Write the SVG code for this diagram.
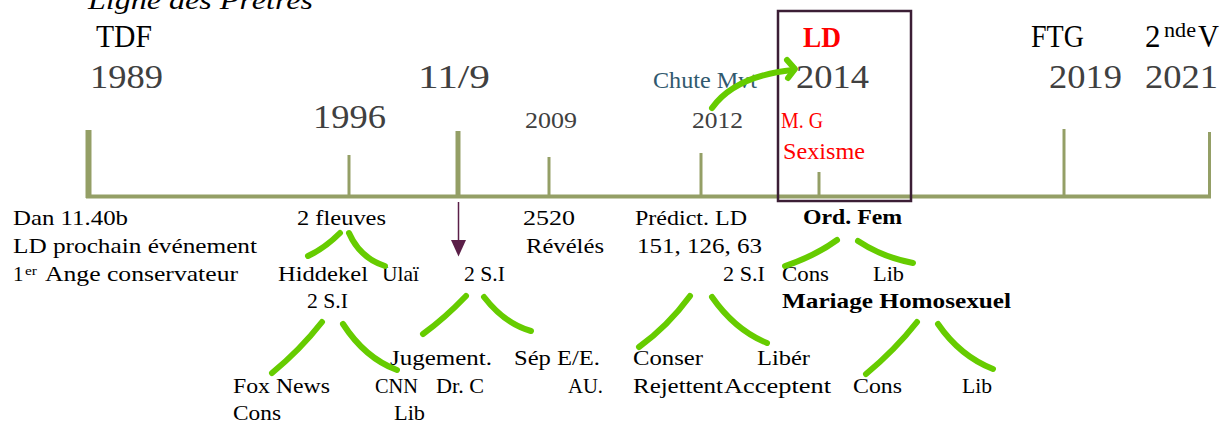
<svg xmlns="http://www.w3.org/2000/svg" width="1223" height="423" viewBox="0 0 1223 423">
<style>
text{font-family:"Liberation Serif","DejaVu Serif",serif;}
.yr{fill:#404040;font-size:33px;}
.yrs{fill:#404040;font-size:24px;}
.hd{fill:#000;font-size:31px;}
.t{fill:#000;font-size:21px;}
.b{font-weight:bold;}
.red{fill:#ff0000;}
.sup{font-size:13px;fill:#000;}
.tick{stroke:#949f66;fill:none;}
.grn{stroke:#66cc00;stroke-width:6;fill:none;stroke-linecap:round;stroke-linejoin:round;}
</style>
<rect width="1223" height="423" fill="#fff"/>
<g id="title"><text x="88" y="9" font-size="26" font-style="italic" textLength="225" lengthAdjust="spacingAndGlyphs">Ligne des Prêtres</text></g>
<g id="timeline">
<line class="tick" x1="86" y1="196.5" x2="1211" y2="196.5" stroke-width="4"/>
<line class="tick" x1="88.5" y1="130" x2="88.5" y2="198" stroke-width="6"/>
<line class="tick" x1="349" y1="155" x2="349" y2="196" stroke-width="3"/>
<line class="tick" x1="458" y1="131" x2="458" y2="196" stroke-width="5"/>
<line class="tick" x1="549" y1="157" x2="549" y2="196" stroke-width="3"/>
<line class="tick" x1="701" y1="153" x2="701" y2="196" stroke-width="3"/>
<line class="tick" x1="819" y1="172" x2="819" y2="198" stroke-width="3"/>
<line class="tick" x1="1064" y1="129" x2="1064" y2="196" stroke-width="3"/>
<line class="tick" x1="1209.5" y1="132" x2="1209.5" y2="198" stroke-width="3"/>
</g>
<g id="box-2014"><rect x="778" y="11" width="133" height="190" fill="none" stroke="#3b1e35" stroke-width="2.5"/></g>
<g id="n1989">
<text class="hd" x="96" y="47" textLength="56" lengthAdjust="spacingAndGlyphs">TDF</text>
<text class="yr" x="90" y="88" textLength="73" lengthAdjust="spacingAndGlyphs">1989</text>
<text class="t" x="13" y="225" textLength="115" lengthAdjust="spacingAndGlyphs">Dan 11.40b</text>
<text class="t" x="13" y="253" textLength="244" lengthAdjust="spacingAndGlyphs">LD prochain événement</text>
<text class="t" x="13" y="281">1</text>
<text class="sup" x="25" y="275" textLength="12" lengthAdjust="spacingAndGlyphs">er</text>
<text class="t" x="45" y="281" textLength="193" lengthAdjust="spacingAndGlyphs">Ange conservateur</text>
</g>
<g id="n1996">
<text class="yr" x="313" y="128" textLength="73" lengthAdjust="spacingAndGlyphs">1996</text>
<text class="t" x="297" y="225" textLength="89" lengthAdjust="spacingAndGlyphs">2 fleuves</text>
<text class="t" x="278" y="281" textLength="90" lengthAdjust="spacingAndGlyphs">Hiddekel</text>
<text class="t" x="382" y="281" textLength="37" lengthAdjust="spacingAndGlyphs">Ulaï</text>
<text class="t" x="307" y="308" textLength="41" lengthAdjust="spacingAndGlyphs">2 S.I</text>
<text class="t" x="233" y="393" textLength="97" lengthAdjust="spacingAndGlyphs">Fox News</text>
<text class="t" x="233" y="420" textLength="48" lengthAdjust="spacingAndGlyphs">Cons</text>
<text class="t" x="375" y="393" textLength="43" lengthAdjust="spacingAndGlyphs">CNN</text>
<text class="t" x="394" y="420" textLength="31" lengthAdjust="spacingAndGlyphs">Lib</text>
</g>
<g id="n911">
<text class="yr" x="418" y="88" textLength="72" lengthAdjust="spacingAndGlyphs">11/9</text>
<text class="t" x="464" y="281" textLength="41" lengthAdjust="spacingAndGlyphs">2 S.I</text>
<text class="t" x="390" y="365" textLength="102" lengthAdjust="spacingAndGlyphs">Jugement.</text>
<text class="t" x="436" y="393" textLength="48" lengthAdjust="spacingAndGlyphs">Dr. C</text>
<text class="t" x="514" y="365" textLength="86" lengthAdjust="spacingAndGlyphs">Sép E/E.</text>
<text class="t" x="568" y="393" textLength="35" lengthAdjust="spacingAndGlyphs">AU.</text>
</g>
<g id="n2009">
<text class="yrs" x="525" y="128" textLength="52" lengthAdjust="spacingAndGlyphs">2009</text>
<text class="t" x="523" y="225" textLength="52" lengthAdjust="spacingAndGlyphs">2520</text>
<text class="t" x="526" y="253" textLength="78" lengthAdjust="spacingAndGlyphs">Révélés</text>
</g>
<g id="n2012">
<text x="653" y="88" font-size="24" fill="#31596e" textLength="104" lengthAdjust="spacingAndGlyphs">Chute Mvt</text>
<text class="yrs" x="692" y="128" textLength="51" lengthAdjust="spacingAndGlyphs">2012</text>
<text class="t" x="635" y="225" textLength="112" lengthAdjust="spacingAndGlyphs">Prédict. LD</text>
<text class="t" x="637" y="253" textLength="125" lengthAdjust="spacingAndGlyphs">151, 126, 63</text>
<text class="t" x="723" y="281" textLength="42" lengthAdjust="spacingAndGlyphs">2 S.I</text>
<text class="t" x="633" y="365" textLength="70" lengthAdjust="spacingAndGlyphs">Conser</text>
<text class="t" x="633" y="393" textLength="90" lengthAdjust="spacingAndGlyphs">Rejettent</text>
<text class="t" x="757" y="365" textLength="53" lengthAdjust="spacingAndGlyphs">Libér</text>
<text class="t" x="724" y="393" textLength="107" lengthAdjust="spacingAndGlyphs">Acceptent</text>
</g>
<g id="n2014">
<text class="red b" x="803" y="47" font-size="30" textLength="38" lengthAdjust="spacingAndGlyphs">LD</text>
<text class="yr" x="796" y="88" textLength="73" lengthAdjust="spacingAndGlyphs">2014</text>
<text class="red" x="781" y="128" font-size="23" textLength="42" lengthAdjust="spacingAndGlyphs">M. G</text>
<text class="red" x="783" y="159" font-size="23" textLength="82" lengthAdjust="spacingAndGlyphs">Sexisme</text>
<text class="t b" x="803" y="224" textLength="99" lengthAdjust="spacingAndGlyphs">Ord. Fem</text>
<text class="t" x="782" y="281" textLength="47" lengthAdjust="spacingAndGlyphs">Cons</text>
<text class="t" x="873" y="281" textLength="31" lengthAdjust="spacingAndGlyphs">Lib</text>
<text class="t b" x="782" y="308" textLength="229" lengthAdjust="spacingAndGlyphs">Mariage Homosexuel</text>
<text class="t" x="853" y="393" textLength="49" lengthAdjust="spacingAndGlyphs">Cons</text>
<text class="t" x="962" y="393" textLength="30" lengthAdjust="spacingAndGlyphs">Lib</text>
</g>
<g id="n2019">
<text class="hd" x="1031" y="47" textLength="53" lengthAdjust="spacingAndGlyphs">FTG</text>
<text class="yr" x="1049" y="88" textLength="73" lengthAdjust="spacingAndGlyphs">2019</text>
</g>
<g id="n2021">
<text class="hd" x="1145" y="47">2</text>
<text x="1164" y="37" font-size="20" fill="#000" textLength="32" lengthAdjust="spacingAndGlyphs">nde</text>
<text class="hd" x="1198" y="47" textLength="21" lengthAdjust="spacingAndGlyphs">V</text>
<text class="yr" x="1145" y="88" textLength="73" lengthAdjust="spacingAndGlyphs">2021</text>
</g>
<g id="connectors">
<line x1="458.5" y1="202" x2="458.5" y2="242" stroke="#5b1f48" stroke-width="1.5"/>
<polygon points="451,240 466,240 458.5,256.5" fill="#5b1f48"/>
<path class="grn" d="M712 108 Q735 76 793 70"/>
<path class="grn" d="M787 60 L795 69 L788 78"/>
<path class="grn" d="M340 233 Q325 248 308 256"/>
<path class="grn" d="M349 233 Q360 258 385 266"/>
<path class="grn" d="M322 322 Q300 350 272 373"/>
<path class="grn" d="M343 324 Q365 358 397 370"/>
<path class="grn" d="M466 296 Q445 318 423 334"/>
<path class="grn" d="M484 297 Q505 324 531 331"/>
<path class="grn" d="M690 296 Q668 326 639 347"/>
<path class="grn" d="M712 297 Q735 330 767 343"/>
<path class="grn" d="M837 240 Q815 256 785 266"/>
<path class="grn" d="M858 241 Q882 257 913 263"/>
<path class="grn" d="M917 322 Q895 350 866 374"/>
<path class="grn" d="M938 324 Q960 356 993 369"/>
</g>
</svg>
